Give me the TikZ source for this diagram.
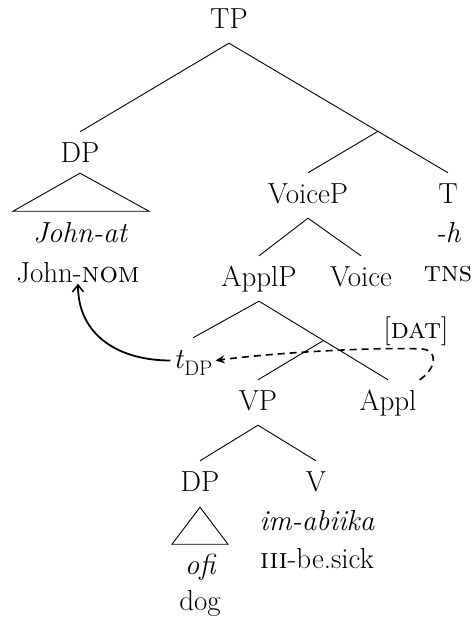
\documentclass[tikz,border=0pt]{standalone}
\usepackage{fontspec}
\usetikzlibrary{arrows.meta,calc}
\begin{document}
\begin{tikzpicture}[x=1pt,y=1pt,
  lab/.style={anchor=base,inner xsep=3pt,inner ysep=8pt,text height=22pt,text depth=7pt,font=\fontsize{29}{34}\selectfont},
  txt/.style={anchor=base,inner sep=1pt,font=\fontsize{29}{34}\selectfont},
  branch/.style={line width=0.9pt},
  movearrow/.style={line width=1.8pt,-{Straight Barb[length=7pt,width=11pt,line width=1.6pt]}},
  agreearrow/.style={line width=1.6pt,dash pattern=on 7pt off 5pt,-{Stealth[length=9pt,width=8pt]}}]
\useasboundingbox (0,0) rectangle (474,-621);
% nodes
\node[lab] (TP) at (229,-28) {TP};
\node[lab] (DPa) at (80,-162) {DP};
\node[txt] (johnat) at (80,-242) {\itshape John-at};
\node[txt] (johnnom) at (78,-282) {John-\textsc{nom}};
\node[lab] (VoiceP) at (308,-203) {VoiceP};
\node[lab] (T) at (448,-203) {T};
\node[txt] (h) at (448,-242) {\itshape -h};
\node[txt] (tns) at (448,-281) {\textsc{tns}};
\node[lab] (ApplP) at (259,-286) {ApplP};
\node[lab] (Voice) at (361,-286) {Voice};
\node[lab] (t) at (193,-368) {\itshape t\/\raisebox{-7pt}{\upshape\fontsize{21}{24}\selectfont DP}};
\node[txt] (dat) at (416,-338) {[\textsc{dat}]};
\node[lab] (VP) at (258,-410) {VP};
\node[lab] (Appl) at (388,-410) {Appl};
\node[lab] (DPb) at (200,-491) {DP};
\node[lab] (V) at (316,-491) {V};
\node[txt] (ofi) at (200,-574) {\itshape ofi};
\node[txt] (dog) at (200,-610) {dog};
\node[txt] (imabiika) at (317,-530) {\itshape im-abiika};
\node[txt] (sick) at (317,-568) {\textsc{iii}-be.sick};
% intermediate (unlabelled) nodes
\coordinate (Tbar) at ($(TP.south)!0.68!(T.north)$);
\coordinate (Applbar) at ($(ApplP.south)!0.5!(Appl.north)$);
% branches
\draw[branch] (TP.south) -- (DPa.north);
\draw[branch] (TP.south) -- (Tbar) -- (T.north);
\draw[branch] (Tbar) -- (VoiceP.north);
\draw[branch] (VoiceP.south) -- (ApplP.north);
\draw[branch] (VoiceP.south) -- (Voice.north);
\draw[branch] (ApplP.south) -- (t.north);
\draw[branch] (ApplP.south) -- (Applbar) -- (Appl.north);
\draw[branch] (Applbar) -- (VP.north);
\draw[branch] (VP.south) -- (DPb.north);
\draw[branch] (VP.south) -- (V.north);
% triangles
\draw[branch] ([yshift=4pt]DPa.south) -- ++(-67,-38) -- ++(136,0) -- cycle;
\draw[branch] ([yshift=-1pt]DPb.south) -- ++(-28,-37) -- ++(56,0) -- cycle;
% arrows
\draw[movearrow] (t.west) to[out=180,in=-90,looseness=1.1] (johnnom.south);
\coordinate (looptop) at (422,-349);
\draw[agreearrow] (Appl.north east) .. controls (437,-368) and (438,-350) .. (looptop)
  .. controls (380,-347) and (280,-352) .. (t.east);
\end{tikzpicture}
\end{document}
